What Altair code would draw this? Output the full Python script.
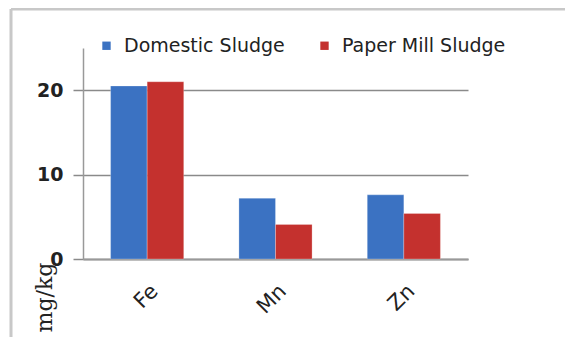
import altair as alt
import pandas as pd

categories = ["Fe", "Mn", "Zn"]
series = ["Domestic Sludge", "Paper Mill Sludge"]
domestic = [20.5, 7.2, 7.6]
paper = [21.0, 4.1, 5.4]
colors = ["#3B72C2", "#C4312E"]
y_ticks = [0, 10, 20]

rows = []
for c, d, p in zip(categories, domestic, paper):
    rows.append({"element": c, "series": series[0], "value": d})
    rows.append({"element": c, "series": series[1], "value": p})
df = pd.DataFrame(rows)

one = pd.DataFrame({"a": [0]})
frame_top = alt.Chart(one).mark_rule(color="#c8c8c8", strokeWidth=3).encode(
    x=alt.value(-72), x2=alt.value(482), y=alt.value(-39)
)
frame_left = alt.Chart(one).mark_rule(color="#c8c8c8", strokeWidth=3).encode(
    x=alt.value(-72), y=alt.value(-39), y2=alt.value(289)
)

bars = alt.Chart(df).mark_bar(stroke="#ffffff", strokeOpacity=0.25, strokeWidth=1).encode(
    x=alt.X(
        "element:N",
        sort=categories,
        scale=alt.Scale(paddingInner=0.43, paddingOuter=0.215),
        axis=alt.Axis(
            title=None,
            labelAngle=-45,
            labelFont="DejaVu Sans",
            labelFontSize=21,
            labelColor="#222222",
            labelPadding=21,
            ticks=False,
            domainColor="#999999",
            domainWidth=2,
        ),
    ),
    xOffset=alt.XOffset("series:N", sort=series),
    y=alt.Y(
        "value:Q",
        scale=alt.Scale(domain=[0, 25]),
        axis=alt.Axis(
            values=y_ticks,
            title="mg/kg",
            titleFont="DejaVu Serif",
            titleFontSize=22,
            titleFontWeight="normal",
            titleColor="#222222",
            titleAngle=270,
            titleAlign="center",
            titleBaseline="middle",
            titleX=-39,
            titleY=249,
            labelFont="DejaVu Sans",
            labelFontSize=19,
            labelFontWeight="bold",
            labelColor="#222222",
            labelPadding=10,
            tickSize=10,
            tickColor="#8a8a8a",
            tickWidth=1.5,
            domainColor="#999999",
            domainWidth=1.5,
            grid=True,
            gridColor="#8a8a8a",
            gridWidth=1.5,
        ),
    ),
    color=alt.Color(
        "series:N",
        sort=series,
        scale=alt.Scale(domain=series, range=colors),
        legend=alt.Legend(
            title=None,
            orient="none",
            direction="horizontal",
            legendX=14,
            legendY=-12,
            symbolType="square",
            symbolSize=70,
            symbolStrokeWidth=0,
            labelFont="DejaVu Sans",
            labelFontSize=19,
            labelColor="#222222",
            labelOffset=8,
            labelLimit=0,
            columnPadding=30,
        ),
    ),
)

chart = alt.layer(frame_top, frame_left, bars).properties(
    width=385,
    height=211,
    autosize=alt.AutoSizeParams(type="none"),
    padding={"left": 75, "top": 40, "right": 97, "bottom": 78},
    background="white",
).configure_view(strokeWidth=0)

chart.save("out.html", embed_options={"renderer": "svg", "actions": False})
